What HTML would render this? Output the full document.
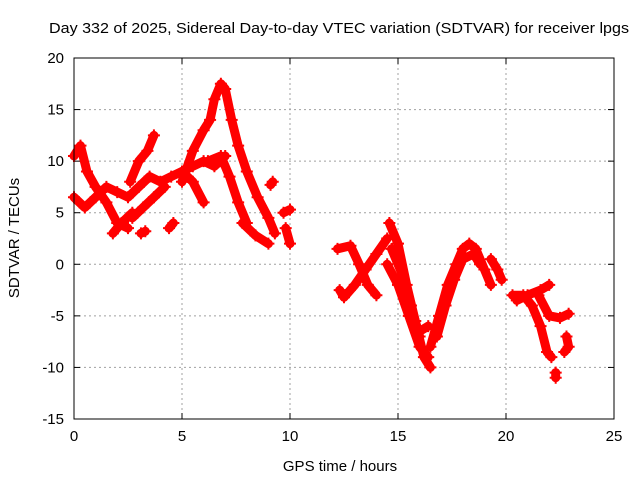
<!DOCTYPE html>
<html><head><meta charset="utf-8"><style>
body{margin:0;background:#fff}
svg{display:block;font-family:"Liberation Sans",sans-serif}
</style></head><body>
<svg id="chart" width="640" height="480">
<text x="339" y="33" text-anchor="middle" font-size="15" textLength="580" lengthAdjust="spacingAndGlyphs">Day 332 of 2025, Sidereal Day-to-day VTEC variation (SDTVAR) for receiver lpgs</text>
<text x="340" y="471" text-anchor="middle" font-size="15">GPS time / hours</text>
<text transform="translate(19,238) rotate(-90)" text-anchor="middle" font-size="15">SDTVAR / TECUs</text>
<g id="grid"></g>
<g id="ticks"></g>
<g id="marks"></g>
<rect x="74" y="58" width="540" height="361" fill="none" stroke="#000" stroke-width="1"/>
</svg>
<script>
const xTicks=[0,5,10,15,20,25];
const yTicks=[-15,-10,-5,0,5,10,15,20];
const tracks=[
[[0,10.5],[0.3,11.5],[0.6,9],[1,7.5],[1.5,6],[2,4],[2.5,3.5]],
[[0,6.5],[0.5,5.5],[1,6.5],[1.5,7.5],[2,7],[2.5,6.5],[3,7.5],[3.5,8.5],[4,8],[4.5,8.5],[5,9],[5.5,9.5],[6,10],[6.5,9.5],[7,10.5]],
[[2.6,8],[3,10],[3.4,11],[3.7,12.5]],
[[2.7,4.5],[3.2,5.5],[3.7,6.5],[4.2,7.5]],
[[5,8],[5.5,11],[6,13],[6.3,14],[6.5,16],[6.8,17.5],[7,17],[7.3,14],[7.6,11.5],[8,9],[8.5,6.5],[9,4.5],[9.3,3]],
[[6.2,10],[6.8,10.5],[7.2,8.5],[7.6,6],[8,4]],
[[7.8,4],[8.4,2.8],[9,2]],
[[5,9],[5.5,8],[6,6]],
[[1.8,3],[2.2,4],[2.7,5]],
[[4.4,3.5],[4.6,4]],[[3.1,3],[3.3,3.2]],[[9.1,7.7],[9.2,8]],[[9.7,5],[10,5.3]],[[9.8,3.5],[10,2]],
[[12.3,-2.5],[12.5,-3.2],[13,-2],[13.5,-0.5],[14,1],[14.5,2.5]],
[[12.2,1.5],[12.8,1.8],[13.2,0],[13.6,-2],[14,-3]],
[[14.6,4],[15,2],[15.4,-2],[15.8,-5.5],[16.2,-9],[16.5,-10]],
[[14.5,0],[15,-2],[15.5,-5],[16,-8],[16.4,-9]],
[[14.7,1.5],[15.2,-1],[15.6,-4],[16,-7]],
[[16.5,-8],[16.9,-5],[17.3,-2],[17.7,0],[18,1.5],[18.3,2],[18.6,1.5],[19,-0.5],[19.3,-2]],
[[16.8,-7],[17.2,-4],[17.6,-1.5],[18,0.5],[18.5,1],[18.8,0]],
[[19.3,0.5],[19.6,-0.5],[19.8,-1.5]],
[[16,-6.5],[16.4,-6]],
[[20.3,-3],[20.8,-3],[21.2,-4],[21.6,-6],[21.9,-8.5],[22.1,-9]],
[[21.5,-3],[22,-5],[22.5,-5.2],[22.9,-4.8]],
[[22.8,-7],[22.9,-8],[22.7,-8.5]],
[[22.3,-10.5],[22.3,-11]],
[[20.5,-3.5],[21,-3],[21.6,-2.5],[22,-2]]
];
const X0=74,X1=614,Y0=419,Y1=58;
const sx=h=>X0+(h-0)/(25-0)*(X1-X0);
const sy=v=>Y0-(v+15)/(35)*(Y0-Y1);
const NS='http://www.w3.org/2000/svg';
const grid=document.getElementById('grid'),ticks=document.getElementById('ticks'),marks=document.getElementById('marks');
function mk(tag,attrs,parent){const e=document.createElementNS(NS,tag);for(const k in attrs)e.setAttribute(k,attrs[k]);parent.appendChild(e);return e;}
xTicks.forEach(t=>{const x=sx(t);
 if(t>0&&t<25){const g=mk('line',{x1:x,x2:x,y1:Y1,y2:Y0,stroke:'#a0a0a0','stroke-dasharray':'2,3'},grid);}
 mk('line',{x1:x,x2:x,y1:Y0,y2:Y0-6,stroke:'#000'},ticks);mk('line',{x1:x,x2:x,y1:Y1,y2:Y1+6,stroke:'#000'},ticks);
 const l=mk('text',{x:x,y:Y0+22,'text-anchor':'middle','font-size':15},ticks);l.textContent=t;
 
 });
yTicks.forEach(t=>{const y=sy(t);
 if(t>-15&&t<20){const g=mk('line',{x1:X0,x2:X1,y1:y,y2:y,stroke:'#a0a0a0','stroke-dasharray':'2,3'},grid);}
 mk('line',{x1:X0,x2:X0+6,y1:y,y2:y,stroke:'#000'},ticks);mk('line',{x1:X1,x2:X1-6,y1:y,y2:y,stroke:'#000'},ticks);
 const l=mk('text',{x:X0-10,y:y+5,'text-anchor':'end','font-size':15},ticks);l.textContent=t;
 
 });
tracks.forEach(tr=>{
 const p=mk('polyline',{points:tr.map(d=>sx(d[0])+','+sy(d[1])).join(' '),fill:'none',stroke:'#ff0000','stroke-width':9,'stroke-linejoin':'round','stroke-linecap':'round'},marks);
 
 
 tr.forEach(d=>{const x=sx(d[0]),y=sy(d[1]);
  const m=mk('path',{d:`M${x-6},${y}H${x+6}M${x},${y-6}V${y+6}`,stroke:'#ff0000','stroke-width':2},marks);
  
  });
});
</script>
</body></html>
